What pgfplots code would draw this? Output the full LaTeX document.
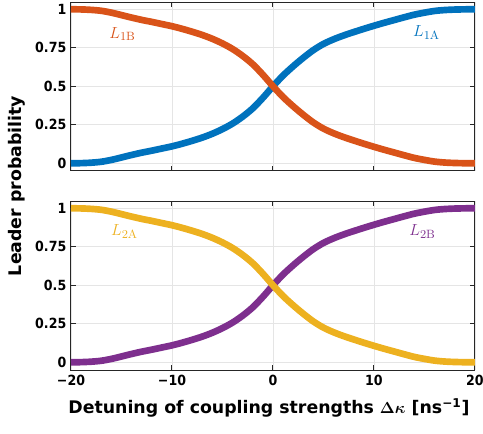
\documentclass[border=0pt]{standalone}
\usepackage[no-math]{fontspec}
\setmainfont{DejaVu Sans}
\newfontfamily\tickfont{DejaVu Sans Condensed}
\usepackage{pgfplots}
\pgfplotsset{compat=1.18}
\usepackage{pgfplotstable}
\definecolor{mblue}{rgb}{0,0.447,0.741}
\definecolor{morange}{rgb}{0.85,0.325,0.098}
\definecolor{myellow}{rgb}{0.929,0.694,0.125}
\definecolor{mpurple}{rgb}{0.494,0.184,0.556}
\pgfplotstableread{
x a b
-20 0.000 1.000
-19 0.001 0.999
-18 0.004 0.996
-17 0.010 0.990
-16 0.022 0.978
-15 0.038 0.962
-14 0.054 0.946
-13 0.069 0.931
-12 0.082 0.918
-11 0.096 0.904
-10 0.110 0.890
-9 0.127 0.873
-8 0.146 0.854
-7 0.167 0.833
-6 0.192 0.808
-5 0.222 0.778
-4 0.258 0.742
-3 0.303 0.697
-2 0.357 0.643
-1 0.425 0.575
0 0.500 0.500
1 0.570 0.430
2 0.630 0.370
3 0.685 0.315
4 0.735 0.265
5 0.775 0.225
6 0.805 0.195
7 0.830 0.170
8 0.852 0.148
9 0.873 0.127
10 0.893 0.107
11 0.912 0.088
12 0.930 0.070
13 0.948 0.052
14 0.965 0.035
15 0.978 0.022
16 0.989 0.011
17 0.995 0.005
18 0.998 0.002
19 0.9995 0.0005
20 1.000 0.000
}\datatab
\begin{document}
\begin{tikzpicture}
\pgfplotsset{
  every axis/.append style={
    scale only axis, width=303pt, height=126.5pt,
    xmin=-20, xmax=20, ymin=-0.05, ymax=1.045,
    xtick={-20,-10,0,10,20},
    ytick={0,0.25,0.5,0.75,1},
    yticklabels={0,0.25,0.5,0.75,1},
    grid=major,
    major grid style={black!10, line width=0.6pt},
    axis line style={black!85, line width=0.75pt},
    every tick/.style={black!85, line width=0.75pt},
    major tick length=3.5pt,
    tick align=inside,
    xtick pos=both, ytick pos=both,
    ticklabel style={font=\tickfont\bfseries\fontsize{10.5}{12}\selectfont},
  },
  every axis plot/.append style={line width=5pt, smooth, line cap=butt},
}
\path[use as bounding box] (-53.25pt,-47.25pt) rectangle (309pt,277.5pt);
\begin{axis}[at={(0,149.25pt)}, anchor=south west, xticklabels={}]
\addplot[mblue] table[x=x,y=a] {\datatab};
\addplot[morange] table[x=x,y=b] {\datatab};
\node[text=morange, font=\fontsize{13}{15}\selectfont] at (axis cs:-14.9,0.84) {$L_{\mathrm{1B}}$};
\node[text=mblue, font=\fontsize{13}{15}\selectfont] at (axis cs:15.2,0.85) {$L_{\mathrm{1A}}$};
\end{axis}
\begin{axis}[at={(0,0)}, anchor=south west,
  xticklabels={−20,−10,0,10,20},
  xlabel={Detuning of coupling strengths {\boldmath$\Delta\kappa$} [ns\textsuperscript{−1}]},
  xlabel style={font=\bfseries\fontsize{13}{15}\selectfont, at={(axis description cs:0.49,0)}, anchor=north, yshift=-18pt},
]
\addplot[mpurple] table[x=x,y=a] {\datatab};
\addplot[myellow] table[x=x,y=b] {\datatab};
\node[text=myellow, font=\fontsize{13}{15}\selectfont] at (axis cs:-14.7,0.85) {$L_{\mathrm{2A}}$};
\node[text=mpurple, font=\fontsize{13}{15}\selectfont] at (axis cs:14.8,0.85) {$L_{\mathrm{2B}}$};
\end{axis}
\node[rotate=90, font=\bfseries\fontsize{13}{15}\selectfont] at (-40.5pt,138pt) {Leader probability};
\end{tikzpicture}
\end{document}
